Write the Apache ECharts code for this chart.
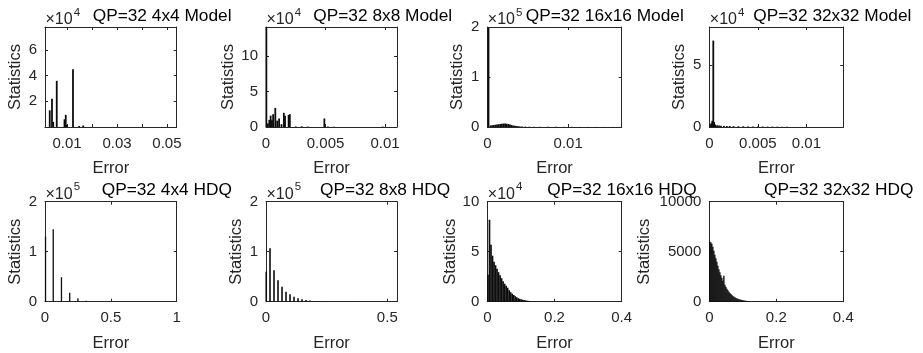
<!DOCTYPE html>
<html><head><meta charset="utf-8">
<script src="https://cdn.jsdelivr.net/npm/echarts@6/dist/echarts.min.js"></script>
<style>html,body{margin:0;padding:0;background:#fff}#c{width:923px;height:353px}</style>
</head><body><div id="c"></div>
<script>
// ---------- data ----------
const titles = ['QP=32 4x4 Model','QP=32 8x8 Model','QP=32 16x16 Model','QP=32 32x32 Model',
                'QP=32 4x4 HDQ','QP=32 8x8 HDQ','QP=32 16x16 HDQ','QP=32 32x32 HDQ'];
const exponents = [4, 4, 5, 4, 5, 5, 4, 0];

const p1Err = [0.0031, 0.0040, 0.0045, 0.0059, 0.0090, 0.0095, 0.0099, 0.0124, 0.0149, 0.0165];
const p1Cnt = [13000, 22000, 4000, 36000, 6000, 9500, 1500, 45000, 800, 1200];

const p2Err = [0.00003, 0.00015, 0.00028, 0.00039, 0.0005, 0.0006, 0.00078, 0.00094, 0.0011, 0.0013, 0.0015, 0.0016, 0.0019, 0.0020, 0.0025, 0.0030, 0.0035, 0.0049, 0.0052, 0.0057, 0.0098];
const p2Cnt = [141000, 5000, 10000, 16000, 9600, 18000, 27000, 9000, 12000, 4000, 20000, 16000, 17000, 18000, 800, 1000, 600, 12000, 600, 400, 500];

const p3Err = [0.00015, 0.0004, 0.0006, 0.0008, 0.0010, 0.0012, 0.0014, 0.0016, 0.0018, 0.0020, 0.0022, 0.0024, 0.0026, 0.0028, 0.0030, 0.0032, 0.0034, 0.0036, 0.0038, 0.0040, 0.0043, 0.0047, 0.0052, 0.0058, 0.0065, 0.0075, 0.0085, 0.0095, 0.0105, 0.0115, 0.0125, 0.0135, 0.0145, 0.0155, 0.0163];
const p3Cnt = [198000, 3000, 3500, 4000, 4500, 5000, 5500, 6000, 6500, 7000, 7000, 6500, 6000, 5000, 4000, 3000, 2500, 2000, 1500, 1200, 1000, 800, 600, 500, 400, 300, 300, 250, 250, 200, 200, 200, 150, 150, 100];

const p4Err = [0.0001, 0.0002, 0.0003, 0.00041, 0.0005, 0.0006, 0.0008, 0.0010, 0.0012, 0.0015, 0.0018, 0.0021, 0.0025, 0.0030, 0.0035, 0.0040, 0.0045, 0.0050, 0.0055, 0.0060, 0.0065, 0.0070, 0.0075, 0.0080];
const p4Cnt = [2000, 3000, 5000, 70000, 4000, 2000, 1500, 1200, 1000, 900, 800, 800, 700, 600, 600, 500, 500, 400, 400, 300, 300, 250, 200, 200];

const p5Err = [0.004, 0.0625, 0.125, 0.1875, 0.25, 0.3125, 0.375, 0.4375];
const p5Cnt = [130000, 145000, 49000, 18000, 7000, 2000, 800, 300];

const p6Err = [0.001, 0.0165, 0.033, 0.0495, 0.066, 0.0825, 0.099, 0.1155, 0.132, 0.1485, 0.165, 0.1815, 0.198, 0.2145, 0.231, 0.2475, 0.264, 0.2805, 0.297, 0.3135, 0.33, 0.3465, 0.363, 0.3795, 0.396, 0.4125, 0.429, 0.4455, 0.462];
const p6Cnt = [60000, 107000, 63000, 43000, 30000, 20000, 15000, 10000, 7000, 5000, 3500, 2500, 1500, 1000, 800, 600, 500, 400, 300, 250, 200, 200, 150, 150, 100, 100, 100, 80, 60];

const p7Err = [0.002, 0.0065, 0.011, 0.0155, 0.020, 0.0245, 0.029, 0.0335, 0.038, 0.0425, 0.047, 0.0515, 0.056, 0.0605, 0.065, 0.0695, 0.074, 0.0785, 0.083, 0.0875, 0.092, 0.0965, 0.101, 0.1055, 0.110, 0.1145, 0.119, 0.1235, 0.128, 0.1325, 0.137, 0.1415, 0.146, 0.1505, 0.16, 0.17, 0.18, 0.19, 0.20, 0.21, 0.22, 0.23, 0.24, 0.25, 0.26, 0.27, 0.28, 0.29, 0.30, 0.31];
const p7Cnt = [27000, 82000, 57000, 46000, 40000, 36500, 33000, 29500, 26500, 23500, 20500, 18000, 16000, 14000, 11500, 9500, 8000, 6700, 5500, 4500, 3500, 2900, 2400, 1900, 1600, 1300, 1000, 800, 650, 500, 400, 350, 300, 250, 250, 200, 150, 120, 100, 100, 80, 80, 60, 60, 50, 50, 40, 40, 30, 30];

const p8Err = [0.0015, 0.0045, 0.0075, 0.0105, 0.0135, 0.0165, 0.0195, 0.0225, 0.0255, 0.0285, 0.0315, 0.0345, 0.0375, 0.0405, 0.0435, 0.0465, 0.0495, 0.0525, 0.0555, 0.0585, 0.0615, 0.0645, 0.0675, 0.0705, 0.0735, 0.0765, 0.0795, 0.0825, 0.0855, 0.0885, 0.0915, 0.0945, 0.0975, 0.1005, 0.1035, 0.1065, 0.1095, 0.1125, 0.1155, 0.1185, 0.1215, 0.13, 0.14, 0.15, 0.16, 0.17, 0.18, 0.19, 0.20, 0.21];
const p8Cnt = [6000, 5950, 5800, 5500, 5100, 4700, 4350, 4000, 3600, 3250, 2950, 2650, 2400, 2100, 2600, 1700, 1500, 1300, 1150, 1000, 880, 770, 670, 580, 500, 440, 380, 330, 290, 250, 220, 190, 160, 140, 120, 100, 90, 80, 70, 60, 50, 40, 35, 30, 25, 20, 20, 15, 15, 10];

const xRanges = [[0.0012, 0.0539], [0, 0.011], [0, 0.01662], [0, 0.0138], [0, 1], [0, 0.54], [0, 0.4], [0, 0.4]];
const xTickVals = [[0.01, 0.02, 0.03, 0.04, 0.05], [0, 0.005, 0.01], [0, 0.01], [0, 0.005, 0.01], [0, 0.5, 1], [0, 0.5], [0, 0.2, 0.4], [0, 0.2, 0.4]];
const xLabelVals = [[0.01, 0.03, 0.05], [0, 0.005, 0.01], [0, 0.01], [0, 0.005, 0.01], [0, 0.5, 1], [0, 0.5], [0, 0.2, 0.4], [0, 0.2, 0.4]];
const yMaxes = [78000, 141000, 200000, 81000, 200000, 200000, 100000, 10000];
const yTickVals = [[20000, 40000, 60000], [0, 50000, 100000], [0, 100000, 200000], [0, 50000], [0, 100000, 200000], [0, 100000, 200000], [0, 50000, 100000], [0, 5000, 10000]];

const errs = [p1Err, p2Err, p3Err, p4Err, p5Err, p6Err, p7Err, p8Err];
const cnts = [p1Cnt, p2Cnt, p3Cnt, p4Cnt, p5Cnt, p6Cnt, p7Cnt, p8Cnt];

// ---------- layout / style ----------
const FONT = '"Liberation Sans", Arial, sans-serif';
const AX = '#262626';
const colLeft = [45, 266, 487.3, 709.3];
const colW = [131.7, 131, 134.4, 134];
const rowTop = [27, 201.7];
const boxH = 100;
const barW = [1.8, 1.8, 1.8, 1.8, 1.3, 1.6, 1.7, 1.4];
const yNameGap = [21, 28.5, 21.5, 21.5, 21.5, 21.5, 28.5, 56];

const fmt = v => String(parseFloat(Number(v).toPrecision(10)));

const grids = [], xAxes = [], yAxes = [], series = [], graphics = [];
for (let i = 0; i < 8; i++) {
  const c = i % 4, r = Math.floor(i / 4);
  const left = colLeft[c], top = rowTop[r];
  grids.push({left: left, top: top, width: colW[c], height: boxH, outerBoundsMode: 'none'});
  const line = {show: true, onZero: false, lineStyle: {color: AX, width: 1}};
  const mult = exponents[i] ? Math.pow(10, exponents[i]) : 1;
  xAxes.push({
    gridIndex: i, type: 'value', position: 'bottom', min: xRanges[i][0], max: xRanges[i][1],
    axisLine: line, splitLine: {show: false},
    axisTick: {show: true, inside: true, length: 3, customValues: xTickVals[i], lineStyle: {color: AX}},
    axisLabel: {show: true, customValues: xLabelVals[i], formatter: fmt, margin: 9, fontSize: 15, color: AX, fontFamily: FONT},
    name: 'Error', nameLocation: 'middle', nameGap: 33,
    nameTextStyle: {fontSize: 16.5, color: AX, fontFamily: FONT}
  });
  xAxes.push({
    gridIndex: i, type: 'value', position: 'top', min: xRanges[i][0], max: xRanges[i][1],
    axisLine: line, splitLine: {show: false}, axisLabel: {show: false},
    axisTick: {show: true, inside: true, length: 3, customValues: xTickVals[i], lineStyle: {color: AX}}
  });
  yAxes.push({
    gridIndex: i, type: 'value', position: 'left', min: 0, max: yMaxes[i],
    axisLine: line, splitLine: {show: false},
    axisTick: {show: true, inside: true, length: 3, customValues: yTickVals[i], lineStyle: {color: AX}},
    axisLabel: {show: true, customValues: yTickVals[i], formatter: v => fmt(v / mult), margin: 8, fontSize: 15, color: AX, fontFamily: FONT},
    name: 'Statistics', nameLocation: 'middle', nameGap: yNameGap[i],
    nameTextStyle: {fontSize: 16.5, color: AX, fontFamily: FONT}
  });
  yAxes.push({
    gridIndex: i, type: 'value', position: 'right', min: 0, max: yMaxes[i],
    axisLine: line, splitLine: {show: false}, axisLabel: {show: false},
    axisTick: {show: true, inside: true, length: 3, customValues: yTickVals[i], lineStyle: {color: AX}}
  });
  series.push({
    type: 'bar', xAxisIndex: 2 * i, yAxisIndex: 2 * i, barWidth: barW[i],
    itemStyle: {color: '#0d0d0d'}, clip: true, silent: true,
    data: errs[i].map((x, k) => [x, cnts[i][k]])
  });
}

const titleLeft = [92.7, 313.3, 525.7, 753.3, 101.7, 320, 547.3, 764];
for (let i = 0; i < 8; i++) {
  const c = i % 4, r = Math.floor(i / 4);
  const left = colLeft[c], top = rowTop[r];
  graphics.push({type: 'text', x: titleLeft[i], y: top - 11,
    style: {text: titles[i], font: '17.3px ' + FONT, fill: '#000', textAlign: 'left', textVerticalAlign: 'middle', align: 'left', verticalAlign: 'middle'}});
  if (exponents[i]) {
    graphics.push({type: 'text', x: left + 0.5, y: top - 7.5,
      style: {text: '\u00d710', font: '16px ' + FONT, fill: AX, textAlign: 'left', textVerticalAlign: 'middle', align: 'left', verticalAlign: 'middle'}});
    graphics.push({type: 'text', x: left + 28.8, y: top - 14.5,
      style: {text: String(exponents[i]), font: '11.5px ' + FONT, fill: AX, textAlign: 'left', textVerticalAlign: 'middle', align: 'left', verticalAlign: 'middle'}});
  }
}

const chart = echarts.init(document.getElementById('c'), null, {renderer: 'canvas'});
chart.setOption({
  animation: false,
  backgroundColor: '#fff',
  grid: grids, xAxis: xAxes, yAxis: yAxes, series: series, graphic: graphics
});
</script></body></html>
